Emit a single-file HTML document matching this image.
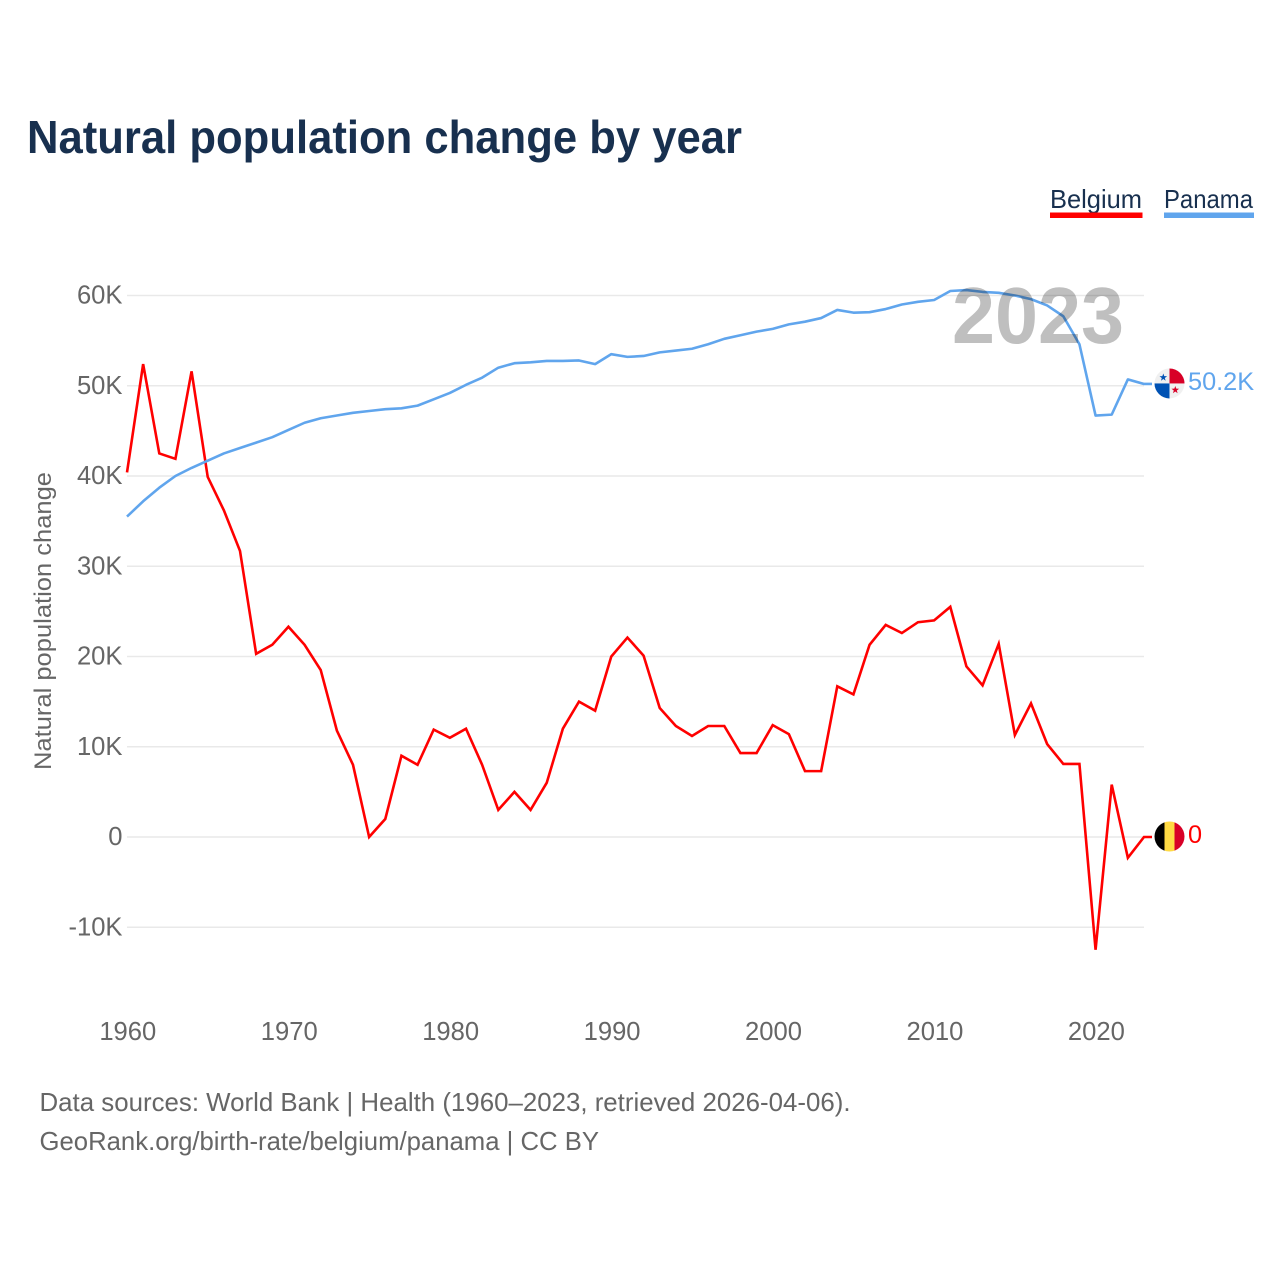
<!DOCTYPE html>
<html lang="en">
<head>
<meta charset="utf-8">
<title>Natural population change by year</title>
<style>
html,body{margin:0;padding:0;background:#fff;}
svg{display:block;}
text{font-family:"Liberation Sans",sans-serif;}
</style>
</head>
<body>
<svg id="chart" width="1280" height="1280" viewBox="0 0 1280 1280" xmlns="http://www.w3.org/2000/svg">
  <defs>
    <clipPath id="flag-clip-pa"><circle cx="0" cy="0" r="15"/></clipPath>
    <clipPath id="flag-clip-be"><circle cx="0" cy="0" r="15"/></clipPath>
  </defs>
  <rect width="1280" height="1280" fill="#fff"/>
  <text x="27" y="153" font-size="46" font-weight="700" fill="#18304f" textLength="715" lengthAdjust="spacingAndGlyphs">Natural population change by year</text>

  <g>
    <g>
      <text x="1050" y="208" font-size="26" fill="#18304f" textLength="92" lengthAdjust="spacingAndGlyphs">Belgium</text>
      <rect x="1050" y="212.5" width="92.5" height="5.5" fill="#ff0000"/>
    </g>
    <g>
      <text x="1164" y="208" font-size="26" fill="#18304f" textLength="89" lengthAdjust="spacingAndGlyphs">Panama</text>
      <rect x="1164" y="212.5" width="90" height="5.5" fill="#60a5ed"/>
    </g>
  </g>

  <g id="grid"></g>
  <g id="y-ticks"></g>
  <g id="x-ticks"></g>
  <text transform="translate(51,621) rotate(-90)" text-anchor="middle" font-size="24" fill="#666" textLength="298" lengthAdjust="spacingAndGlyphs">Natural population change</text>
  <g id="series"></g>
  <text id="year-label" x="952" y="343" font-size="80" font-weight="700" fill="#000" fill-opacity="0.25" textLength="172" lengthAdjust="spacingAndGlyphs"></text>

  <g id="flag-pa">
    <g clip-path="url(#flag-clip-pa)">
      <rect x="-15" y="-15" width="30" height="30" fill="#f0f0f0"/>
      <rect x="0" y="-16" width="16" height="16" fill="#d80027"/>
      <rect x="-16" y="0" width="16" height="16" fill="#0052b4"/>
      <polygon fill="#0052b4" points="0,-4 0.95,-1.3 3.8,-1.25 1.5,0.5 2.35,3.25 0,1.6 -2.35,3.25 -1.5,0.5 -3.8,-1.25 -0.95,-1.3" transform="translate(-6.2,-6)"/>
      <polygon fill="#d80027" points="0,-4 0.95,-1.3 3.8,-1.25 1.5,0.5 2.35,3.25 0,1.6 -2.35,3.25 -1.5,0.5 -3.8,-1.25 -0.95,-1.3" transform="translate(5.8,6.5)"/>
    </g>
  </g>
  <g id="flag-be">
    <g clip-path="url(#flag-clip-be)">
      <rect x="-15" y="-15" width="10" height="30" fill="#000"/>
      <rect x="-5" y="-15" width="10" height="30" fill="#ffda44"/>
      <rect x="5" y="-15" width="10" height="30" fill="#d80027"/>
    </g>
  </g>
  <text id="value-pa" x="1188" font-size="25.3" fill="#60a5ed"></text>
  <text id="value-be" x="1188" font-size="25.3" fill="#ff0000"></text>

  <g>
    <text x="39.5" y="1111" font-size="26" fill="#666" textLength="811" lengthAdjust="spacingAndGlyphs">Data sources: World Bank | Health (1960–2023, retrieved 2026-04-06).</text>
    <text x="39.5" y="1150" font-size="26" fill="#666" textLength="559.5" lengthAdjust="spacingAndGlyphs">GeoRank.org/birth-rate/belgium/panama | CC BY</text>
  </g>
</svg>
<script>
const years = [1960,1961,1962,1963,1964,1965,1966,1967,1968,1969,1970,1971,1972,1973,1974,1975,1976,1977,1978,1979,1980,1981,1982,1983,1984,1985,1986,1987,1988,1989,1990,1991,1992,1993,1994,1995,1996,1997,1998,1999,2000,2001,2002,2003,2004,2005,2006,2007,2008,2009,2010,2011,2012,2013,2014,2015,2016,2017,2018,2019,2020,2021,2022,2023];
const belgium = [40400,52400,42500,41900,51600,39900,36200,31700,20300,21300,23300,21300,18500,11800,8000,0,2000,9000,8000,11900,11000,12000,8000,3000,5000,3000,6000,12000,15000,14000,20000,22100,20100,14300,12300,11200,12300,12300,9300,9300,12400,11400,7300,7300,16700,15800,21300,23500,22600,23800,24000,25500,18900,16800,21400,11300,14800,10300,8100,8100,-12500,5800,-2300,0];
const panama = [35500,37200,38700,40000,40900,41700,42500,43100,43700,44300,45100,45900,46400,46700,47000,47200,47400,47500,47800,48500,49200,50100,50900,52000,52500,52600,52750,52750,52800,52400,53500,53200,53300,53700,53900,54100,54600,55200,55600,56000,56300,56800,57100,57500,58400,58100,58150,58500,59000,59300,59500,60500,60600,60400,60300,60000,59600,58900,57700,54600,46700,46800,50700,50200];
const yTicks = [-10000,0,10000,20000,30000,40000,50000,60000];
const xTicks = [1960,1970,1980,1990,2000,2010,2020];

const NS = 'http://www.w3.org/2000/svg';
function xScale(year){ return 127 + (year - 1960) * (1144 - 127) / 63; }
function yScale(value){ return 837 - value * (837 - 295.5) / 60000; }
function fmt(v){
  if (v === 0) return '0';
  const k = v / 1000;
  return (Number.isInteger(k) ? String(k) : k.toFixed(1)) + 'K';
}
const grid = document.getElementById('grid');
const yGroup = document.getElementById('y-ticks');
const xGroup = document.getElementById('x-ticks');
const seriesGroup = document.getElementById('series');

yTicks.forEach(function(t){
  const line = document.createElementNS(NS, 'line');
  
  
  line.setAttribute('x1', 127);
  line.setAttribute('x2', 1144);
  line.setAttribute('y1', yScale(t));
  line.setAttribute('y2', yScale(t));
  line.setAttribute('stroke', '#e9e9e9');
  line.setAttribute('stroke-width', 1.6);
  grid.appendChild(line);
  const label = document.createElementNS(NS, 'text');
  
  
  label.setAttribute('x', 122.5);
  label.setAttribute('y', yScale(t) + 8);
  label.setAttribute('text-anchor', 'end');
  label.setAttribute('font-size', 25.6);
  label.setAttribute('fill', '#666');
  label.textContent = fmt(t);
  yGroup.appendChild(label);
});

xTicks.forEach(function(t){
  const label = document.createElementNS(NS, 'text');
  
  
  label.setAttribute('x', xScale(t) + 0.8);
  label.setAttribute('y', 1040);
  label.setAttribute('text-anchor', 'middle');
  label.setAttribute('font-size', 25.6);
  label.setAttribute('fill', '#666');
  label.textContent = String(t);
  xGroup.appendChild(label);
});

function path(values){
  const pts = values.map(function(v, i){
    return (i ? 'L' : 'M') + xScale(years[i]).toFixed(2) + ' ' + yScale(v).toFixed(2);
  });
  pts.push('L1152 ' + yScale(values[values.length - 1]).toFixed(2));
  return pts.join(' ');
}
const lineBelgium = document.createElementNS(NS, 'path');


lineBelgium.setAttribute('d', path(belgium));
lineBelgium.setAttribute('fill', 'none');
lineBelgium.setAttribute('stroke', '#ff0000');
lineBelgium.setAttribute('stroke-width', 2.6);
lineBelgium.setAttribute('stroke-linejoin', 'miter');
seriesGroup.appendChild(lineBelgium);

const linePanama = document.createElementNS(NS, 'path');


linePanama.setAttribute('d', path(panama));
linePanama.setAttribute('fill', 'none');
linePanama.setAttribute('stroke', '#60a5ed');
linePanama.setAttribute('stroke-width', 2.6);
linePanama.setAttribute('stroke-linejoin', 'round');
seriesGroup.appendChild(linePanama);

const lastP = panama[panama.length - 1];
const lastB = belgium[belgium.length - 1];
document.getElementById('flag-pa').setAttribute('transform', 'translate(1169.5,' + (yScale(lastP) - 0.5) + ')');
document.getElementById('flag-be').setAttribute('transform', 'translate(1169.5,' + (yScale(lastB) - 0.5) + ')');
const vp = document.getElementById('value-pa');
vp.setAttribute('y', yScale(lastP) + 6);
vp.textContent = fmt(lastP);
const vb = document.getElementById('value-be');
vb.setAttribute('y', yScale(lastB) + 6);
vb.textContent = fmt(lastB);
document.getElementById('year-label').textContent = String(years[years.length - 1]);
</script>
</body>
</html>
